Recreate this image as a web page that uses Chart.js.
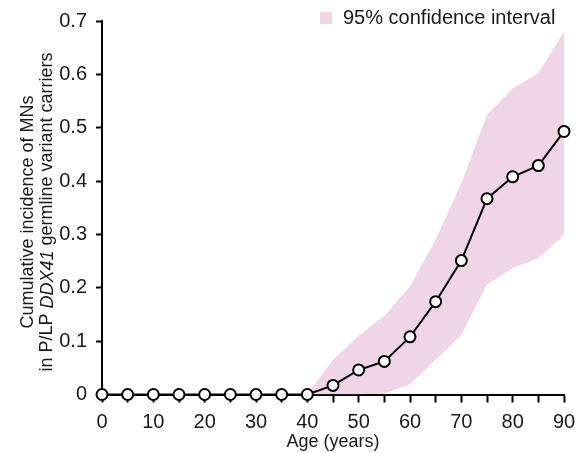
<!DOCTYPE html>
<html>
<head>
<meta charset="utf-8">
<script src="https://cdn.jsdelivr.net/npm/chart.js@4.4.1/dist/chart.umd.min.js"></script>
<style>
  html, body { margin: 0; padding: 0; background: #ffffff; }
  #wrap { width: 577px; height: 453px; position: relative; }
</style>
</head>
<body>
<div id="wrap"><canvas id="c" width="577" height="453"></canvas></div>
<script>
// Cumulative incidence by age
const ages = [0, 5, 10, 15, 20, 25, 30, 35, 40, 45, 50, 55, 60, 65, 70, 75, 80, 85, 90];
const incidence = [0, 0, 0, 0, 0, 0, 0, 0, 0, 0.017, 0.046, 0.062, 0.108, 0.174, 0.251, 0.367, 0.408, 0.429, 0.493];

// 95% confidence band
const ciAges = [40, 45, 50, 55, 60, 65, 70, 75, 80, 85, 90];
const ciUpper = [0, 0.065, 0.110, 0.147, 0.203, 0.290, 0.396, 0.524, 0.574, 0.602, 0.680];
const ciLower = [0, 0, 0, 0.002, 0.019, 0.065, 0.112, 0.206, 0.237, 0.256, 0.300];

// Axis ticks
const xTicks = [0, 10, 20, 30, 40, 50, 60, 70, 80, 90];
const yTicks = ['0', '0.1', '0.2', '0.3', '0.4', '0.5', '0.6', '0.7'];

const FONT = "'Liberation Sans', Arial, Helvetica, sans-serif";
const INK = '#1a1a1a';
const BAND = 'rgb(239, 213, 229)';

const toXY = (xs, ys) => xs.map((x, i) => ({ x: x, y: ys[i] }));

// Rotated two-line y-axis title with an italic gene name, plus the band legend
const annotations = {
  id: 'annotations',
  afterDraw(chart) {
    const ctx = chart.ctx;
    const cy = 212;
    ctx.save();
    ctx.fillStyle = INK;
    ctx.textBaseline = 'middle';

    ctx.save();
    ctx.translate(28.5, cy);
    ctx.rotate(-Math.PI / 2);
    ctx.font = '18px ' + FONT;
    ctx.textAlign = 'center';
    ctx.fillText('Cumulative incidence of MNs', 0, 0);
    ctx.restore();

    ctx.save();
    ctx.translate(47.5, cy);
    ctx.rotate(-Math.PI / 2);
    const parts = [
      { t: 'in P/LP ', f: '18px ' + FONT },
      { t: 'DDX41', f: 'italic 18px ' + FONT },
      { t: ' germline variant carriers', f: '18px ' + FONT }
    ];
    let total = 0;
    parts.forEach(p => { ctx.font = p.f; p.w = ctx.measureText(p.t).width; total += p.w; });
    let x = -total / 2;
    ctx.textAlign = 'left';
    parts.forEach(p => { ctx.font = p.f; ctx.fillText(p.t, x, 0); x += p.w; });
    ctx.restore();

    // legend
    ctx.fillStyle = BAND;
    ctx.fillRect(320, 12, 12, 12);
    ctx.fillStyle = INK;
    ctx.font = '20px ' + FONT;
    ctx.textAlign = 'left';
    ctx.fillText('95% confidence interval', 343, 18);
    ctx.restore();
  }
};

new Chart(document.getElementById('c'), {
  type: 'line',
  data: {
    datasets: [
      {
        label: 'Cumulative incidence',
        data: toXY(ages, incidence),
        borderColor: '#000000',
        borderWidth: 2,
        pointRadius: 5.5,
        pointBorderWidth: 2,
        pointBackgroundColor: '#ffffff',
        pointBorderColor: '#000000',
        tension: 0,
        fill: false,
        clip: false,
        order: 0
      },
      {
        label: '95% confidence interval',
        data: toXY(ciAges, ciUpper),
        borderWidth: 0,
        borderColor: BAND,
        backgroundColor: BAND,
        pointRadius: 0,
        fill: '+1',
        tension: 0,
        order: 1
      },
      {
        label: 'lower',
        data: toXY(ciAges, ciLower),
        borderWidth: 0,
        borderColor: BAND,
        backgroundColor: BAND,
        pointRadius: 0,
        fill: false,
        tension: 0,
        order: 2
      }
    ]
  },
  options: {
    responsive: false,
    animation: false,
    devicePixelRatio: 1,
    layout: { padding: { top: 21, right: 13, left: 0, bottom: 0 } },
    plugins: {
      legend: { display: false },
      tooltip: { enabled: false }
    },
    scales: {
      x: {
        type: 'linear',
        min: 0,
        max: 90,
        afterBuildTicks(scale) {
          const t = [];
          for (let v = 0; v <= 90; v += 5) t.push({ value: v });
          scale.ticks = t;
        },
        afterFit(scale) {
          scale.height = 58.5;
          scale.paddingLeft = 0;
          scale.paddingRight = 0;
        },
        ticks: {
          autoSkip: false,
          maxRotation: 0,
          padding: 8,
          color: INK,
          font: { family: FONT, size: 20 },
          callback: v => xTicks.includes(v) ? String(v) : ''
        },
        grid: {
          drawOnChartArea: false,
          drawTicks: true,
          tickLength: 8,
          tickWidth: 2,
          tickColor: '#000000'
        },
        border: { display: true, color: '#000000', width: 2 },
        title: {
          display: true,
          text: 'Age (years)',
          color: INK,
          font: { family: FONT, size: 18 },
          padding: { top: 0, bottom: 0 }
        }
      },
      y: {
        type: 'linear',
        min: 0,
        max: 0.7,
        afterBuildTicks(scale) {
          scale.ticks = yTicks.map(s => ({ value: parseFloat(s) }));
        },
        afterFit(scale) {
          scale.width = 102;
          scale.paddingTop = 0;
          scale.paddingBottom = 0;
        },
        ticks: {
          padding: 9,
          color: INK,
          font: { family: FONT, size: 20 },
          callback: v => yTicks[Math.round(v * 10)]
        },
        grid: {
          drawOnChartArea: false,
          drawTicks: true,
          tickLength: 6,
          tickWidth: 2,
          tickColor: '#000000'
        },
        border: { display: true, color: '#000000', width: 2 }
      }
    }
  },
  plugins: [annotations]
});
</script>
</body>
</html>
